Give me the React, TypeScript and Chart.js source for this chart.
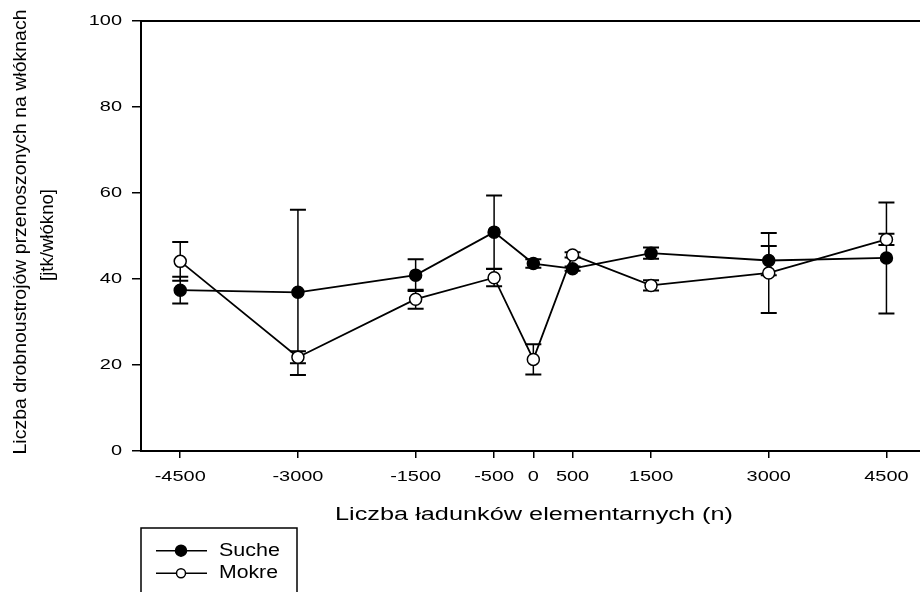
import React, { useEffect, useRef } from "react";
import { Chart, registerables } from "chart.js";

Chart.register(...registerables);

const xValues = [-4500, -3000, -1500, -500, 0, 500, 1500, 3000, 4500];
const xTickLabels = ["-4500", "-3000", "-1500", "-500", "0", "500", "1500", "3000", "4500"];
const yTicks = [0, 20, 40, 60, 80, 100];
const yTickLabels = ["0", "20", "40", "60", "80", "100"];
const sucheMean = [37.4, 36.9, 40.9, 50.9, 43.6, 42.4, 46.0, 44.3, 44.9];
const sucheErr = [3.1, 19.2, 3.7, 8.5, 1.0, 0.5, 1.3, 3.4, 12.9];
const mokreMean = [44.1, 21.8, 35.3, 40.3, 21.3, 45.6, 38.5, 41.4, 49.2];
const mokreErr = [4.5, 1.4, 2.2, 2.0, 3.5, 0.6, 1.2, 9.3, 1.3];
const seriesNames = ["Suche", "Mokre"];
const xTitle = "Liczba ładunków elementarnych (n)";
const yTitleLines = ["Liczba drobnoustrojów przenoszonych na włóknach", "[jtk/włókno]"];

const FONT = '"Liberation Sans", Arial, sans-serif';

function drawText(
  ctx: CanvasRenderingContext2D,
  text: string,
  x: number,
  y: number,
  o: { size: number; width?: number; sx?: number; rotate?: number; align?: CanvasTextAlign }
) {
  ctx.save();
  ctx.translate(x, y);
  if (o.rotate) ctx.rotate(o.rotate);
  ctx.font = `${o.size}px ${FONT}`;
  const w = ctx.measureText(text).width;
  const sx = o.width ? o.width / w : o.sx ?? 1;
  ctx.scale(sx, 1);
  ctx.fillStyle = "#000";
  ctx.textBaseline = "middle";
  ctx.textAlign = o.align ?? "center";
  ctx.fillText(text, 0, 0);
  ctx.restore();
}

const errorBarPlugin = {
  id: "errorBars",
  beforeDatasetsDraw(chart: any) {
    const { ctx } = chart;
    const xs = chart.scales.x;
    const ys = chart.scales.y;
    const sets = [
      { m: sucheMean, e: sucheErr },
      { m: mokreMean, e: mokreErr },
    ];
    ctx.save();
    ctx.strokeStyle = "#000";
    sets.forEach((s) => {
      xValues.forEach((xv, i) => {
        const px = xs.getPixelForValue(xv);
        const top = ys.getPixelForValue(s.m[i] + s.e[i]);
        const bot = ys.getPixelForValue(s.m[i] - s.e[i]);
        ctx.lineWidth = 1.5;
        ctx.beginPath();
        ctx.moveTo(px, top);
        ctx.lineTo(px, bot);
        ctx.stroke();
        ctx.lineWidth = 2;
        ctx.beginPath();
        ctx.moveTo(px - 8, top);
        ctx.lineTo(px + 8, top);
        ctx.moveTo(px - 8, bot);
        ctx.lineTo(px + 8, bot);
        ctx.stroke();
      });
    });
    ctx.restore();
  },
};

const decorPlugin = {
  id: "decor",
  afterDraw(chart: any) {
    const { ctx, chartArea } = chart;
    const xs = chart.scales.x;
    const ys = chart.scales.y;
    ctx.save();
    // top frame line
    ctx.strokeStyle = "#000";
    ctx.lineWidth = 2;
    ctx.beginPath();
    ctx.moveTo(chartArea.left, chartArea.top);
    ctx.lineTo(chartArea.right + 8, chartArea.top);
    ctx.stroke();

    // x tick labels
    xValues.forEach((v, i) => {
      drawText(ctx, xTickLabels[i], xs.getPixelForValue(v), 477, { size: 15, sx: 1.33 });
    });
    // y tick labels
    yTicks.forEach((v, i) => {
      drawText(ctx, yTickLabels[i], 122, ys.getPixelForValue(v), { size: 15, sx: 1.33, align: "right" });
    });
    // x title
    drawText(ctx, xTitle, 534, 515, { size: 17.5, width: 398 });
    // y title
    drawText(ctx, yTitleLines[0], 21, 232, { size: 19, width: 445, rotate: -Math.PI / 2 });
    drawText(ctx, yTitleLines[1], 48, 235, { size: 19, width: 92, rotate: -Math.PI / 2 });

    // legend
    ctx.lineWidth = 1.5;
    ctx.strokeStyle = "#000";
    ctx.strokeRect(141, 528, 156, 90);
    const rows = [550.7, 573.3];
    rows.forEach((ry, i) => {
      ctx.lineWidth = 1.5;
      ctx.beginPath();
      ctx.moveTo(156, ry);
      ctx.lineTo(207, ry);
      ctx.stroke();
      ctx.beginPath();
      ctx.arc(181, ry, i === 0 ? 5.5 : 4.5, 0, Math.PI * 2);
      ctx.fillStyle = i === 0 ? "#000" : "#fff";
      ctx.fill();
      ctx.stroke();
      drawText(ctx, seriesNames[i], 219, ry, { size: 18, width: i === 0 ? 61 : 59, align: "left" });
    });
    ctx.restore();
  },
};

export default function App() {
  const canvasRef = useRef<HTMLCanvasElement | null>(null);

  useEffect(() => {
    if (!canvasRef.current) return;
    const chart = new Chart(canvasRef.current, {
      type: "line",
      data: {
        datasets: [
          {
            label: seriesNames[0],
            data: xValues.map((x, i) => ({ x, y: sucheMean[i] })),
            borderColor: "#000",
            backgroundColor: "#000",
            borderWidth: 1.8,
            pointRadius: 6,
            pointBorderWidth: 1.5,
            pointBackgroundColor: "#000",
            pointBorderColor: "#000",
            tension: 0,
          },
          {
            label: seriesNames[1],
            data: xValues.map((x, i) => ({ x, y: mokreMean[i] })),
            borderColor: "#000",
            backgroundColor: "#fff",
            borderWidth: 1.8,
            pointRadius: 6,
            pointBorderWidth: 1.5,
            pointBackgroundColor: "#fff",
            pointBorderColor: "#000",
            tension: 0,
          },
        ],
      },
      options: {
        animation: false,
        responsive: false,
        maintainAspectRatio: false,
        layout: { padding: { top: 21, right: 0, left: 0, bottom: 0 } },
        plugins: {
          legend: { display: false },
          tooltip: { enabled: false },
          title: { display: false },
        },
        scales: {
          x: {
            type: "linear",
            min: -5000,
            max: 4934,
            afterBuildTicks: (scale: any) => {
              scale.ticks = xValues.map((v) => ({ value: v }));
            },
            afterFit: (scale: any) => {
              scale.height = 141;
            },
            ticks: { display: false },
            grid: {
              drawOnChartArea: false,
              drawTicks: true,
              tickLength: 7,
              color: "#000",
              lineWidth: 1.5,
            },
            border: { display: true, color: "#000", width: 2 },
          },
          y: {
            type: "linear",
            min: 0,
            max: 100,
            afterBuildTicks: (scale: any) => {
              scale.ticks = yTicks.map((v) => ({ value: v }));
            },
            afterFit: (scale: any) => {
              scale.width = 141;
            },
            ticks: { display: false },
            grid: {
              drawOnChartArea: false,
              drawTicks: true,
              tickLength: 9,
              color: "#000",
              lineWidth: 1.5,
            },
            border: { display: true, color: "#000", width: 2 },
          },
        },
      },
      plugins: [errorBarPlugin, decorPlugin],
    } as any);
    return () => chart.destroy();
  }, []);

  return (
    <div style={{ position: "fixed", left: 0, top: 0, width: 920, height: 592, overflow: "hidden", background: "#fff" }}>
      <canvas ref={canvasRef} width={928} height={592} style={{ display: "block", width: 928, height: 592 }} />
    </div>
  );
}
